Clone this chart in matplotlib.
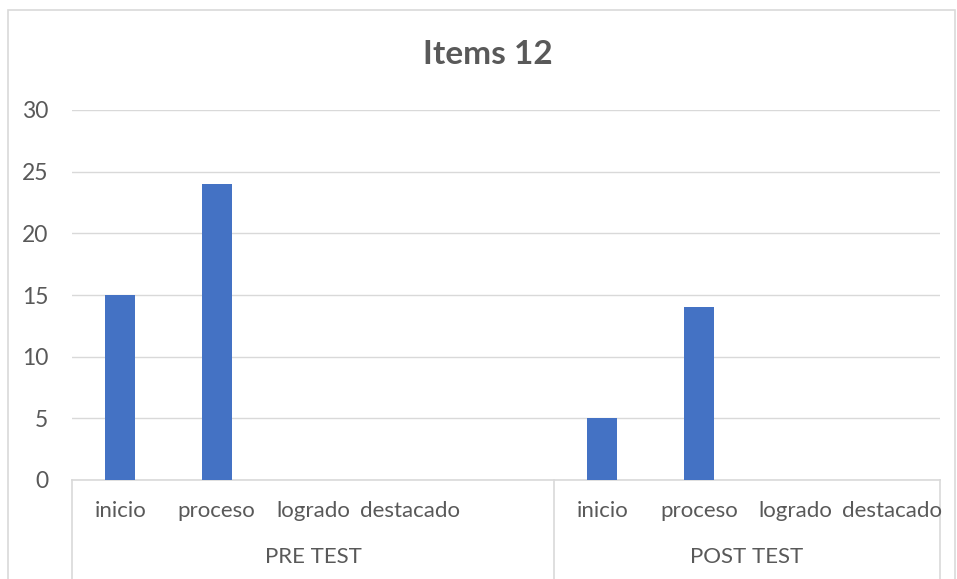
import matplotlib
matplotlib.use("Agg")
import matplotlib.pyplot as plt
from matplotlib.patches import Rectangle
import matplotlib.transforms as mtransforms

plt.rcParams['font.family'] = ['Lato', 'DejaVu Sans']

title = "Items 12"
groups = ["PRE TEST", "POST TEST"]
pre_categories = ["inicio", "proceso", "logrado", "destacado", ""]
post_categories = ["inicio", "proceso", "logrado", "destacado"]
pre_values = [15, 24, 0, 0, 0]
post_values = [5, 14, 0, 0]
yticks = [0, 5, 10, 15, 20, 25, 30]

labels = pre_categories + post_categories
values = pre_values + post_values
xs = list(range(len(labels)))

text_color = "#595959"
grid_color = "#d9d9d9"
bar_color = "#4472C4"

fig = plt.figure(figsize=(9.57, 5.79), dpi=100)
ax = fig.add_axes([72/957, 1-480/579, (940-72)/957, 370/579])

ax.bar(xs, values, width=0.31, color=bar_color, zorder=3)
ax.set_xlim(-0.5, len(labels) - 0.5)
ax.set_ylim(0, 30)
ax.set_yticks(yticks)
ax.set_yticklabels([str(t) for t in yticks], fontsize=16.5, color=text_color)
ax.tick_params(axis='y', length=0, pad=17)
ax.set_xticks([])
ax.grid(axis='y', color=grid_color, linewidth=1, zorder=0)
for s in ['top', 'right', 'left']:
    ax.spines[s].set_visible(False)
ax.spines['bottom'].set_color(grid_color)
ax.spines['bottom'].set_linewidth(1.2)

trans = mtransforms.blended_transform_factory(ax.transData, ax.transAxes)
bottom_y = -99/370
for x, lab in zip(xs, labels):
    ax.text(x, -31/370, lab, transform=trans, ha='center', va='center',
            fontsize=16, color=text_color, clip_on=False)

# group separators and labels
bounds = [-0.5, len(pre_categories) - 0.5, len(labels) - 0.5]
for b in bounds:
    ax.plot([b, b], [0, bottom_y], transform=trans, color=grid_color,
            linewidth=1.2, clip_on=False)
for g, (a, b) in zip(groups, zip(bounds[:-1], bounds[1:])):
    ax.text((a + b) / 2, -77/370, g, transform=trans, ha='center', va='center',
            fontsize=16, color=text_color, clip_on=False)

fig.text(488/957, 1-55/579, title, ha='center', va='center', fontsize=24,
         fontweight='bold', color=text_color)

fig.patches.append(Rectangle((8/957, -0.05), (955-8)/957, 1.05 - 10/579,
                             transform=fig.transFigure, fill=False,
                             edgecolor=grid_color, linewidth=1.2))

fig.savefig("out.png", dpi=100, facecolor="white")
